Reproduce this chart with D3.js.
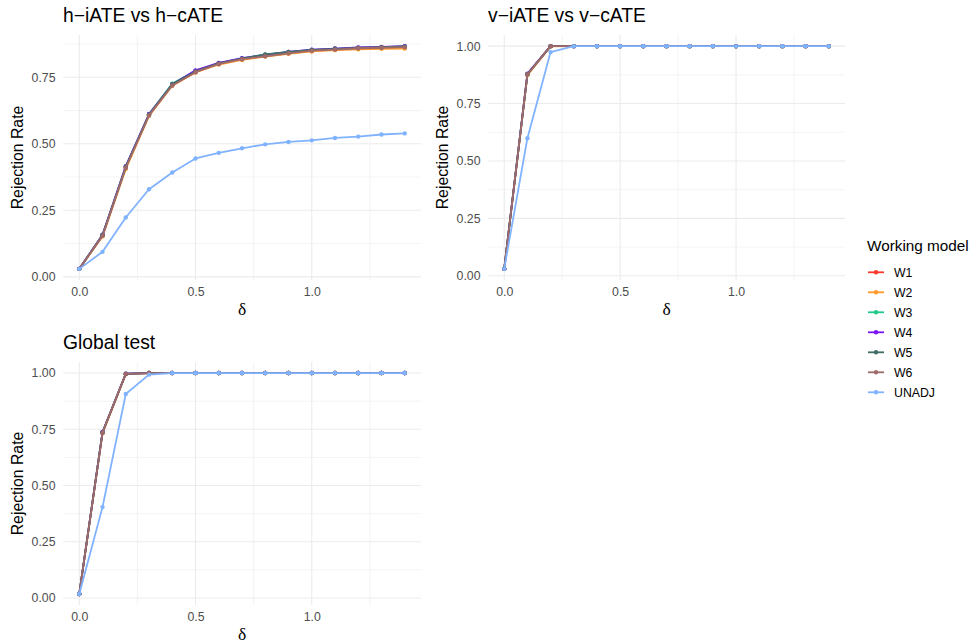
<!DOCTYPE html>
<html>
<head>
<meta charset="utf-8">
<script src="https://cdn.jsdelivr.net/npm/d3@7"></script>
<style>
  body { margin: 0; background: #fff; }
  svg { display: block; font-family: "Liberation Sans", Arial, sans-serif; }
  .tick text { fill: #4d4d4d; font-size: 12.3px; }
</style>
</head>
<body>
<svg id="chart" width="977" height="644"></svg>
<script>
// values
const delta = [0, 0.1, 0.2, 0.3, 0.4, 0.5, 0.6, 0.7, 0.8, 0.9, 1.0, 1.1, 1.2, 1.3, 1.4];
const models = ["W1", "W2", "W3", "W4", "W5", "W6", "UNADJ"];

const hRates = {
  W1:    [0.03, 0.155, 0.410, 0.608, 0.720, 0.770, 0.800, 0.818, 0.830, 0.840, 0.849, 0.854, 0.858, 0.860, 0.862],
  W2:    [0.03, 0.152, 0.405, 0.605, 0.718, 0.768, 0.798, 0.815, 0.828, 0.838, 0.847, 0.852, 0.855, 0.857, 0.858],
  W3:    [0.03, 0.157, 0.413, 0.611, 0.726, 0.773, 0.803, 0.821, 0.835, 0.844, 0.852, 0.857, 0.861, 0.863, 0.866],
  W4:    [0.03, 0.158, 0.416, 0.612, 0.723, 0.776, 0.804, 0.822, 0.834, 0.845, 0.854, 0.858, 0.862, 0.864, 0.867],
  W5:    [0.03, 0.157, 0.414, 0.610, 0.724, 0.772, 0.802, 0.820, 0.836, 0.845, 0.853, 0.857, 0.860, 0.863, 0.866],
  W6:    [0.03, 0.154, 0.410, 0.607, 0.719, 0.769, 0.800, 0.818, 0.829, 0.840, 0.850, 0.854, 0.859, 0.861, 0.863],
  UNADJ: [0.03, 0.094, 0.223, 0.329, 0.392, 0.445, 0.466, 0.483, 0.498, 0.507, 0.513, 0.522, 0.527, 0.535, 0.539]
};

const vRates = {
  W1:    [0.03, 0.876, 1.0, 1, 1, 1, 1, 1, 1, 1, 1, 1, 1, 1, 1],
  W2:    [0.03, 0.874, 0.999, 1, 1, 1, 1, 1, 1, 1, 1, 1, 1, 1, 1],
  W3:    [0.03, 0.878, 1.0, 1, 1, 1, 1, 1, 1, 1, 1, 1, 1, 1, 1],
  W4:    [0.03, 0.880, 1.0, 1, 1, 1, 1, 1, 1, 1, 1, 1, 1, 1, 1],
  W5:    [0.03, 0.878, 1.0, 1, 1, 1, 1, 1, 1, 1, 1, 1, 1, 1, 1],
  W6:    [0.03, 0.877, 1.0, 1, 1, 1, 1, 1, 1, 1, 1, 1, 1, 1, 1],
  UNADJ: [0.03, 0.599, 0.974, 1, 1, 1, 1, 1, 1, 1, 1, 1, 1, 1, 1]
};

const globalRates = {
  W1:    [0.018, 0.735, 0.996, 1, 1, 1, 1, 1, 1, 1, 1, 1, 1, 1, 1],
  W2:    [0.018, 0.732, 0.995, 1, 1, 1, 1, 1, 1, 1, 1, 1, 1, 1, 1],
  W3:    [0.018, 0.737, 0.997, 1, 1, 1, 1, 1, 1, 1, 1, 1, 1, 1, 1],
  W4:    [0.018, 0.738, 0.997, 1, 1, 1, 1, 1, 1, 1, 1, 1, 1, 1, 1],
  W5:    [0.018, 0.736, 0.996, 1, 1, 1, 1, 1, 1, 1, 1, 1, 1, 1, 1],
  W6:    [0.018, 0.735, 0.996, 1, 1, 1, 1, 1, 1, 1, 1, 1, 1, 1, 1],
  UNADJ: [0.018, 0.404, 0.907, 0.993, 1, 1, 1, 1, 1, 1, 1, 1, 1, 1, 1]
};

const xTicks = [0, 0.5, 1.0];
const xMinor = [0.25, 0.75, 1.25];
const yTicksH = [0, 0.25, 0.5, 0.75];
const yTicks = [0, 0.25, 0.5, 0.75, 1.0];

const colors = {
  W1: "#f8392b", W2: "#ff9a2a", W3: "#22c98a", W4: "#7a10f5",
  W5: "#3f6e66", W6: "#a06a6a", UNADJ: "#80b3ff"
};

const svg = d3.select("#chart");

// ggplot style 5% expansion of the data range
function expand(lo, hi) {
  const pad = (hi - lo) * 0.05;
  return [lo - pad, hi + pad];
}

function panel(opt) {
  const { left, top, right, bottom, rates, title, yMajor } = opt;
  const allY = models.flatMap(m => rates[m]);
  const x = d3.scaleLinear().domain(expand(0, 1.4)).range([left, right]);
  const y = d3.scaleLinear().domain(expand(d3.min(allY), d3.max(allY))).range([bottom, top]);

  const yMinor = [];
  for (let i = 0; i < yMajor.length; i++) {
    const v = yMajor[i] + 0.125;
    if (v <= y.domain()[1]) yMinor.push(v);
  }

  const g = svg.append("g");

  // grid
  g.selectAll(".xminor").data(xMinor).enter().append("line")
    .attr("x1", d => x(d)).attr("x2", d => x(d))
    .attr("y1", top).attr("y2", bottom)
    .attr("stroke", "#ebebeb").attr("stroke-width", 0.6);
  g.selectAll(".yminor").data(yMinor).enter().append("line")
    .attr("y1", d => y(d)).attr("y2", d => y(d))
    .attr("x1", left).attr("x2", right)
    .attr("stroke", "#ebebeb").attr("stroke-width", 0.6);
  g.selectAll(".xmajor").data(xTicks).enter().append("line")
    .attr("x1", d => x(d)).attr("x2", d => x(d))
    .attr("y1", top).attr("y2", bottom)
    .attr("stroke", "#ebebeb").attr("stroke-width", 1.1);
  g.selectAll(".ymajor").data(yMajor).enter().append("line")
    .attr("y1", d => y(d)).attr("y2", d => y(d))
    .attr("x1", left).attr("x2", right)
    .attr("stroke", "#ebebeb").attr("stroke-width", 1.1);

  // axes (labels only, theme_minimal has no ticks)
  g.append("g")
    .attr("transform", `translate(${left},0)`)
    .call(d3.axisLeft(y).tickValues(yMajor).tickFormat(d3.format(".2f")).tickSize(0).tickPadding(7.5))
    .call(a => a.select(".domain").remove())
    .selectAll("text").attr("font-family", "Liberation Sans, Arial, sans-serif");
  g.append("g")
    .attr("transform", `translate(0,${bottom})`)
    .call(d3.axisBottom(x).tickValues(xTicks).tickFormat(d3.format(".1f")).tickSize(0).tickPadding(7))
    .call(a => a.select(".domain").remove())
    .selectAll("text").attr("font-family", "Liberation Sans, Arial, sans-serif");

  // lines and points
  const line = d3.line().x((d, i) => x(delta[i])).y(d => y(d));
  models.forEach(m => {
    g.append("path")
      .attr("d", line(rates[m]))
      .attr("fill", "none")
      .attr("stroke", colors[m])
      .attr("stroke-width", 1.8)
      .attr("stroke-linejoin", "round");
    g.selectAll(null).data(rates[m]).enter().append("circle")
      .attr("cx", (d, i) => x(delta[i]))
      .attr("cy", d => y(d))
      .attr("r", 2.2)
      .attr("fill", colors[m]);
  });

  // titles
  svg.append("text")
    .attr("x", left).attr("y", top - 13)
    .attr("font-size", "19.3px").attr("fill", "#000")
    .text(title);
  svg.append("text")
    .attr("transform", `translate(${opt.yTitleX},${(top + bottom) / 2}) rotate(-90)`)
    .attr("text-anchor", "middle")
    .attr("font-size", "15.8px").attr("fill", "#000")
    .text("Rejection Rate");
  svg.append("text")
    .attr("x", (left + right) / 2).attr("y", bottom + 35)
    .attr("text-anchor", "middle")
    .attr("font-family", "Liberation Serif, DejaVu Serif, serif")
    .attr("font-size", "17.5px").attr("fill", "#000")
    .text("δ");
}

panel({ left: 63, top: 35, right: 421, bottom: 280, rates: hRates,
  title: "h\u2212iATE vs h\u2212cATE", yMajor: yTicksH, yTitleX: 23 });
panel({ left: 488, top: 35, right: 845, bottom: 280, rates: vRates,
  title: "v\u2212iATE vs v\u2212cATE", yMajor: yTicks, yTitleX: 448 });
panel({ left: 63, top: 362, right: 421, bottom: 605, rates: globalRates,
  title: "Global test", yMajor: yTicks, yTitleX: 23 });

// legend
const legend = svg.append("g").attr("transform", "translate(867,0)");
legend.append("text")
  .attr("x", 0).attr("y", 251)
  .attr("font-size", "15.3px").attr("fill", "#000")
  .text("Working model");
const item = legend.selectAll(".item").data(models).enter().append("g")
  .attr("transform", (d, i) => `translate(0,${272.3 + i * 20})`);
item.append("line")
  .attr("x1", 1).attr("x2", 17)
  .attr("stroke", d => colors[d]).attr("stroke-width", 1.8);
item.append("circle")
  .attr("cx", 9).attr("r", 2.2).attr("fill", d => colors[d]);
item.append("text")
  .attr("x", 27).attr("dy", "0.35em")
  .attr("font-size", "12.3px").attr("fill", "#000")
  .text(d => d);
</script>
</body>
</html>
